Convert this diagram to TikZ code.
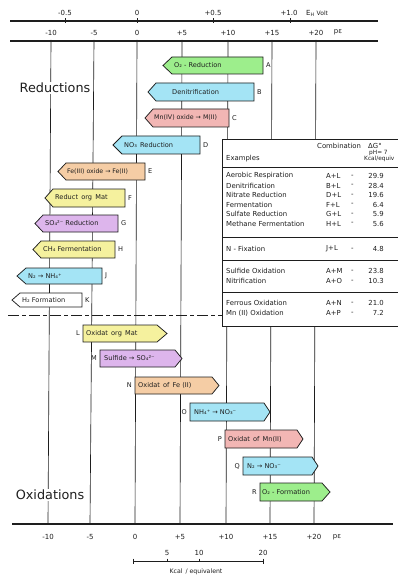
\documentclass[tikz,border=0pt]{standalone}
\usepackage{fontspec}
\setmainfont{DejaVu Sans}
\definecolor{cgreen}{HTML}{9DEE8C}
\definecolor{ccyan}{HTML}{A4E4F5}
\definecolor{cpink}{HTML}{F2B6B4}
\definecolor{cpeach}{HTML}{F5CDA5}
\definecolor{cyellow}{HTML}{F5F19E}
\definecolor{cviolet}{HTML}{DDB5EC}
\definecolor{ink}{HTML}{1E1E1E}
\tikzset{
  axisline/.style={draw=ink, line width=1.2pt},
  gridline/.style={draw=ink, line width=0.65pt},
  boxshape/.style={draw=ink, line width=0.75pt, line join=miter},
  boxtext/.style={font=\fontsize{6.6}{7.5}\selectfont, inner sep=0pt, text=ink},
  lettertext/.style={font=\fontsize{6.6}{7.5}\selectfont, inner sep=0pt, text=ink},
  axislabel/.style={font=\fontsize{7}{8}\selectfont, inner sep=0pt, text=ink},
  tabtext/.style={font=\fontsize{6.9}{8}\selectfont, inner sep=0pt, text=ink, anchor=west},
  bigtext/.style={font=\fontsize{12.8}{14}\selectfont, inner sep=1pt, fill=white, text=ink},
  sepline/.style={draw=ink, line width=1pt},
}
\newcommand{\RedBox}[9]{%
  \filldraw[boxshape, fill=#7] (#2,{(#5+#6)/2}) -- (#3,#5) -- (#4,#5) -- (#4,#6) -- (#3,#6) -- cycle;
  \node[boxtext, anchor=west] (#1t) at (#8,{(#5+#6)/2}) {#9};
  \node[lettertext, anchor=west] (#1) at ({#4+3},{(#5+#6)/2}) {#1};
}
\newcommand{\OxBox}[9]{%
  \filldraw[boxshape, fill=#7] (#2,#5) -- (#3,#5) -- (#4,{(#5+#6)/2}) -- (#3,#6) -- (#2,#6) -- cycle;
  \node[boxtext, anchor=west] (#1t) at (#8,{(#5+#6)/2}) {#9};
  \node[lettertext, anchor=east] (#1) at ({#2-3},{(#5+#6)/2}) {#1};
}
\begin{document}
\begin{tikzpicture}[x=1pt, y=-1pt]
\useasboundingbox[fill=white] (0,0) rectangle (398,580);

% grid lines
\foreach \n/\a/\b in {1/51/48, 2/94/90, 3/137/135, 4/182/180, 5/228/226, 6/272/270, 7/316/314}{
  \coordinate (g\n t) at (\a,40);
  \coordinate (g\n b) at (\b,524);
  \draw[gridline] (g\n t) -- (g\n b);
}

% axes
\coordinate (ehL) at (10,21); \coordinate (ehR) at (378,21);
\coordinate (peL) at (10,41); \coordinate (peR) at (378,41);
\coordinate (pbL) at (12,524); \coordinate (pbR) at (393,524);
\draw[axisline] (ehL) -- (ehR);
\draw[axisline] (peL) -- (peR);
\draw[axisline] (pbL) -- (pbR);
\foreach \x in {65,137,213,290}{ \draw[gridline] (\x,18.5) -- (\x,23.5); }

% EH labels
\node[axislabel] (eh1) at (65,13) {-0.5};
\node[axislabel] (eh2) at (137,13) {0};
\node[axislabel] (eh3) at (213,13) {+0.5};
\node[axislabel] (eh4) at (289,13) {+1.0};
\node[axislabel, anchor=west] (eh5) at (306,13) {E{\fontsize{4.8}{5}\selectfont\raisebox{-1pt}{H}}\hspace{2.5pt}{\fontsize{6}{7}\selectfont Volt}};

% pE labels top
\foreach \n/\x/\t in {1/51/-10, 2/94/-5, 3/137/0, 4/182/+5, 5/228/+10, 6/272/+15, 7/316/+20}{
  \node[axislabel] (pt\n) at (\x,33) {\t};
}
\node[axislabel] (ptpe) at (338,32.5) {pε};
% pE labels bottom
\foreach \n/\x/\t in {1/48/-10, 2/90/-5, 3/135/0, 4/180/+5, 5/226/+10, 6/270/+15, 7/314/+20}{
  \node[axislabel] (pb\n) at (\x,537) {\t};
}
\node[axislabel] (pbpe) at (337,537) {pε};

% dash-dot separator
\coordinate (dsL) at (8,315); \coordinate (dsR) at (222,315);
\draw[draw=ink, line width=1pt, dash pattern=on 11pt off 3pt on 4pt off 3pt] (dsL) -- (dsR);

% table
\filldraw[draw=ink, line width=1pt, fill=white] (222,140) rectangle (404,326);
\foreach \y in {167,237,260,292}{ \draw[sepline] (222,\y) -- (404,\y); }
\node[tabtext] (th1) at (317,146) {Combination};
\node[tabtext] (th2) at (368,146) {ΔG°};
\node[tabtext, font=\fontsize{5.8}{6.5}\selectfont] (th3) at (369,152.5) {pH= 7};
\node[tabtext, font=\fontsize{5.8}{6.5}\selectfont] (th4) at (364,158.5) {Kcal/equiv};
\node[tabtext] (th5) at (226,159) {Examples};
\foreach \n/\y/\a/\b/\c in {
  1/176/Aerobic Respiration/A+L/29.9,
  2/185.5/Denitrification/B+L/28.4,
  3/195/Nitrate Reduction/D+L/19.6,
  4/204.5/Fermentation/F+L/6.4,
  5/214/Sulfate Reduction/G+L/5.9,
  6/223.5/Methane Fermentation/H+L/5.6,
  7/249/N - Fixation/J+L/4.8,
  8/271/Sulfide Oxidation/A+M/23.8,
  9/281/Nitrification/A+O/10.3,
  10/303/Ferrous Oxidation/A+N/21.0,
  11/313/Mn (II) Oxidation/A+P/7.2}{
  \node[tabtext] (tn\n) at (226,\y) {\a};
  \node[tabtext] (tc\n) at (326,\y) {\b};
  \node[tabtext] (tm\n) at (351,\y) {-};
  \node[tabtext, anchor=east] (tv\n) at (384,\y) {\c};
}

% reduction boxes
\RedBox{A}{163}{172}{263}{57}{74}{cgreen}{174}{O₂ - Reduction}
\RedBox{B}{148}{156}{254}{83}{101}{ccyan}{172}{Denitrification}
\RedBox{C}{145}{153}{229}{109}{127}{cpink}{154}{\fontsize{6.3}{7}\selectfont Mn(IV) oxide → M(II)}
\RedBox{D}{113}{122}{200}{136}{154}{ccyan}{124}{NO₃\, Reduction}
\RedBox{E}{58}{66}{145}{163}{180}{cpeach}{67}{\fontsize{6.2}{7}\selectfont Fe(III) oxide → Fe(II)}
\RedBox{F}{45}{53}{125}{189}{207}{cyellow}{55}{Reduct\, org\, Mat}
\RedBox{G}{35}{43}{118}{215}{232}{cviolet}{45}{SO₄²⁻ Reduction}
\RedBox{H}{33}{41}{115}{241}{258}{cyellow}{43}{CH₄ Fermentation}
\RedBox{J}{17}{26}{102}{268}{284}{ccyan}{28}{N₂ → NH₄⁺}
\RedBox{K}{12}{20}{82}{293}{307}{white}{22}{H₂ Formation}

% oxidation boxes
\OxBox{L}{83}{157}{167}{325}{342}{cyellow}{86}{Oxidat\, org\, Mat}
\OxBox{M}{100}{175}{182}{350}{367}{cviolet}{104}{Sulfide → SO₄²⁻}
\OxBox{N}{135}{212}{219}{377}{394}{cpeach}{138}{Oxidat\, of\, Fe (II)}
\OxBox{O}{190}{264}{270}{403}{421}{ccyan}{194}{NH₄⁺ → NO₃⁻}
\OxBox{P}{225}{297}{303}{430}{448}{cpink}{228}{Oxidat\, of\, Mn(II)}
\OxBox{Q}{243}{312}{318}{457}{475}{ccyan}{247}{N₂ → NO₃⁻}
\OxBox{R}{260}{322}{330}{483}{501}{cgreen}{262}{O₂ - Formation}

% section titles
\node[bigtext] (red) at (55,88) {Reductions};
\node[bigtext] (oxi) at (50,495) {Oxidations};

% scale bar
\coordinate (sbL) at (133,561); \coordinate (sbR) at (263,561);
\draw[draw=ink, line width=0.9pt] (sbL) -- (sbR);
\draw[draw=ink, line width=0.9pt] (133,558.5) -- (133,563.5);
\draw[draw=ink, line width=0.9pt] (263,558.5) -- (263,563.5);
\draw[draw=ink, line width=0.9pt] (167,558.5) -- (167,561);
\draw[draw=ink, line width=0.9pt] (199,558.5) -- (199,561);
\node[axislabel] (s5) at (167,553) {5};
\node[axislabel] (s10) at (199,553) {10};
\node[axislabel] (s20) at (263,553) {20};
\node[axislabel, font=\fontsize{6.2}{7}\selectfont] (skc) at (196,572) {Kcal\, / equivalent};
\end{tikzpicture}
\end{document}
